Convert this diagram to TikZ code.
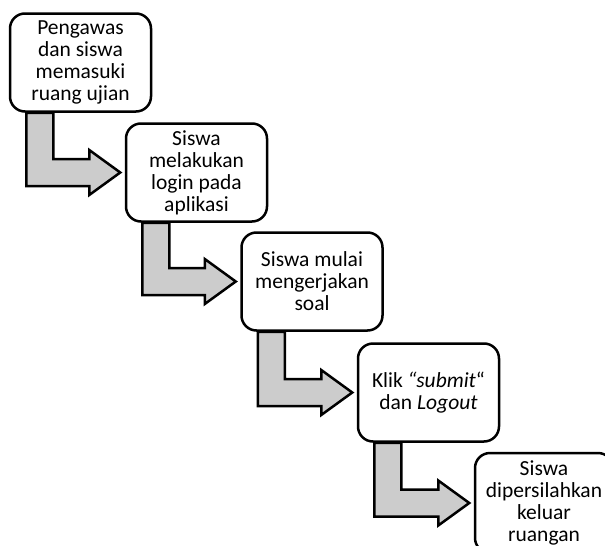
\documentclass[tikz,border=0pt]{standalone}
\usepackage{fontspec}
\setmainfont{Carlito}
\usetikzlibrary{calc,backgrounds}
\begin{document}
\begin{tikzpicture}[x=1pt,y=-1pt,
  stepbox/.style={draw=black,line width=2.5pt,rounded corners=15pt,fill=white,
    minimum width=141pt,minimum height=98pt,inner sep=0pt,align=center,
    font=\fontsize{21.5}{22}\selectfont},
  blockarrow/.style={draw=black,line width=2.5pt,fill=gray!40,line join=miter}]
\useasboundingbox (0,0) rectangle (605,546);
\clip (0,0) rectangle (605,546);
\node[stepbox] (b1) at (80.5,62.5) {Pengawas\\dan siswa\\memasuki\\ruang ujian};
\node[stepbox] (b2) at (196.5,172.5) {Siswa\\melakukan\\login pada\\aplikasi};
\node[stepbox] (b3) at (312,281.5) {Siswa mulai\\mengerjakan\\soal};
\node[stepbox] (b4) at (428.5,392.5) {Klik \textit{“submit}“\\dan \textit{Logout}};
\node[stepbox,minimum width=138pt,minimum height=100pt] (b5) at (544,503) {Siswa\\dipersilahkan\\keluar\\ruangan};
\begin{scope}[on background layer]
\foreach \a/\b in {b1/b2,b2/b3,b3/b4,b4/b5}{
  \path[blockarrow] let \p1=(\a.south west), \p2=(\b.west) in
    (\x1+17.5pt,\y1) -- (\x1+44.5pt,\y1) -- (\x1+44.5pt,\y2+13.5pt)
    -- (\x2-35.5pt,\y2+13.5pt) -- (\x2-35.5pt,\y2+22.5pt) -- (\x2-4.5pt,\y2)
    -- (\x2-35.5pt,\y2-22.5pt) -- (\x2-35.5pt,\y2-13.5pt)
    -- (\x1+17.5pt,\y2-13.5pt) -- cycle;
}
\end{scope}
\end{tikzpicture}
\end{document}
